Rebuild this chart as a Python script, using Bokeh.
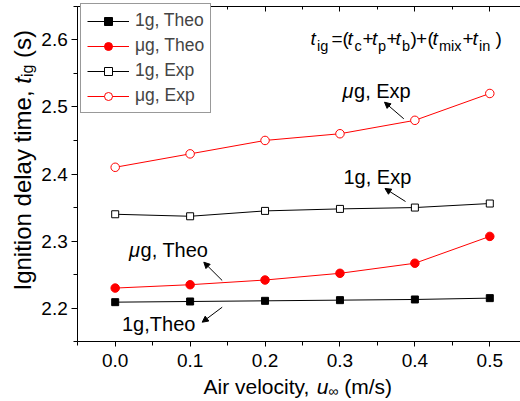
import numpy as np
from bokeh.plotting import figure
from bokeh.models import Range1d, FixedTicker, LinearAxis, Label, Arrow, NormalHead
from bokeh.embed import file_html
from bokeh.resources import INLINE

# ---------------- data ----------------
air_velocity = [0.0, 0.1, 0.2, 0.3, 0.4, 0.5]
theo_1g = [2.209, 2.210, 2.211, 2.212, 2.213, 2.215]
theo_ug = [2.230, 2.235, 2.242, 2.252, 2.267, 2.307]
exp_1g = [2.340, 2.337, 2.345, 2.348, 2.350, 2.356]
exp_ug = [2.410, 2.430, 2.450, 2.460, 2.480, 2.520]

x_ticks = [0.0, 0.1, 0.2, 0.3, 0.4, 0.5]
x_tick_labels = ["0.0", "0.1", "0.2", "0.3", "0.4", "0.5"]
y_ticks = [2.2, 2.3, 2.4, 2.5, 2.6]
y_tick_labels = ["2.2", "2.3", "2.4", "2.5", "2.6"]

# ---------------- layout ----------------
X0, X1 = -0.05, 0.55
Y0, Y1 = 2.15, 2.65
W, H = 520, 401
FONT = "Liberation Sans"
RED = "#ff0000"
BOFF = 7  # baseline correction for labels (px)

PX0, PXS = 114.7, 749.2      # page x of x=0, px per unit
PY0, PYS = 307.7, 671.0      # page y of y=2.2, px per unit


def dx(px):
    return (px - PX0) / PXS


def dy(py):
    return 2.2 + (PY0 - py) / PYS


WID = {' ': 278, ',': 278, '.': 278, '(': 333, ')': 333, '/': 278, 'A': 667, 'I': 278,
       'E': 667, 'T': 611, 'a': 556, 'b': 556, 'c': 500, 'd': 556, 'e': 556, 'g': 556,
       'h': 556, 'i': 222, 'l': 222, 'm': 833, 'n': 556, 'o': 556, 'p': 556, 'r': 333,
       's': 500, 't': 278, 'u': 556, 'v': 500, 'x': 500, 'y': 500, '1': 556, 'μ': 576,
       '∞': 713, '+': 584, '=': 584}


def tw(s, size):
    return sum(WID.get(c, 556) for c in s) * size / 1000.0


p = figure(width=W, height=H, x_range=Range1d(dx(0), dx(W)), y_range=Range1d(dy(H), dy(0)),
           output_backend="svg", toolbar_location=None,
           x_axis_location=None, y_axis_location=None,
           min_border=0, min_border_left=0, min_border_right=0,
           min_border_top=0, min_border_bottom=0,
           background_fill_color="white", border_fill_color="white")
p.grid.visible = False
p.outline_line_color = None

x_minor = list(np.round(np.concatenate([[x_ticks[0] - 0.05], np.array(x_ticks) + 0.05]), 3))
y_minor = list(np.round(np.concatenate([[y_ticks[0] - 0.05], np.array(y_ticks) + 0.05]), 3))

bottom = LinearAxis(fixed_location=Y0, bounds=(X0, X1),
                    ticker=FixedTicker(ticks=x_ticks, minor_ticks=x_minor),
                    major_label_overrides={t: l for t, l in zip(x_ticks, x_tick_labels)},
                    major_tick_in=0, major_tick_out=5, minor_tick_in=0, minor_tick_out=4,
                    major_label_standoff=7, major_label_text_font=FONT,
                    major_label_text_font_size="19px", major_label_text_color="black",
                    axis_line_color="black")
p.add_layout(bottom, "below")

left = LinearAxis(fixed_location=X0, bounds=(Y0, Y1),
                  ticker=FixedTicker(ticks=y_ticks, minor_ticks=y_minor),
                  major_label_overrides={t: l for t, l in zip(y_ticks, y_tick_labels)},
                  major_tick_in=0, major_tick_out=6, minor_tick_in=0, minor_tick_out=4,
                  major_label_standoff=4, major_label_text_font=FONT,
                  major_label_text_font_size="19px", major_label_text_color="black",
                  axis_line_color="black")
p.add_layout(left, "left")

top = LinearAxis(fixed_location=Y1, bounds=(X0, X1),
                 ticker=FixedTicker(ticks=x_ticks, minor_ticks=x_minor),
                 major_tick_in=5, major_tick_out=0, minor_tick_in=3, minor_tick_out=0,
                 major_label_overrides={t: "" for t in x_ticks}, major_label_standoff=0,
                 axis_line_color="black")
p.add_layout(top, "above")

# ---------------- series ----------------
p.line(air_velocity, theo_1g, color="black", line_width=1, legend_label="1g, Theo")
p.scatter(air_velocity, theo_1g, marker="square", size=7, color="black", legend_label="1g, Theo")
p.line(air_velocity, theo_ug, color=RED, line_width=1, legend_label="μg, Theo")
p.scatter(air_velocity, theo_ug, marker="circle", size=8.5, color=RED, legend_label="μg, Theo")
p.line(air_velocity, exp_1g, color="black", line_width=1, legend_label="1g, Exp")
p.scatter(air_velocity, exp_1g, marker="square", size=7, line_color="black", fill_color="white",
          line_width=1, legend_label="1g, Exp")
p.line(air_velocity, exp_ug, color=RED, line_width=1, legend_label="μg, Exp")
p.scatter(air_velocity, exp_ug, marker="circle", size=8.5, line_color=RED, fill_color="white",
          line_width=1, legend_label="μg, Exp")

lg = p.legend[0]
lg.padding = 6
lg.spacing = 4
lg.glyph_height = 20
lg.glyph_width = 42
lg.label_height = 20
lg.label_standoff = 6
lg.label_text_font = FONT
lg.label_text_font_size = "17.5px"
lg.border_line_color = "#333333"
lg.border_line_width = 1.2
lg.background_fill_color = "white"
lg.background_fill_alpha = 1
LEG_H = 2 * 6 + 4 * 20 + 3 * 4
lg.location = (80, H - 9 - LEG_H)


# ---------------- texts ----------------
def txt(px, py, s, size, style="normal", angle=0.0):
    if angle == 0.0:
        py -= BOFF
    else:
        px -= BOFF
    p.add_layout(Label(x=dx(px), y=dy(py), text=s, text_font=FONT,
                       text_font_size=f"{size}px", text_font_style=style,
                       text_color="black", text_align="left",
                       text_baseline="alphabetic", angle=angle))


# formula
MB_, SB_ = 45, 52
MS, SS = 19, 14.5
for px, s, sub, it in [(310, "t", False, True), (316.5, "ig", True, False),
                       (331, "=", False, False), (342, "(", False, False),
                       (347, "t", False, True), (354, "c", True, False),
                       (362, "+", False, False),
                       (371.5, "t", False, True), (377.5, "p", True, False),
                       (386, "+", False, False),
                       (395, "t", False, True), (401.5, "b", True, False),
                       (410, ")", False, False), (415.5, "+", False, False),
                       (427, "(", False, False),
                       (432, "t", False, True), (438.5, "mix", True, False),
                       (462, "+", False, False),
                       (472, "t", False, True), (478.5, "in", True, False),
                       (495, ")", False, False)]:
    txt(px, SB_ if sub else MB_, s, SS if sub else MS, "italic" if it else "normal")

# series annotations
AS = 20
txt(342, 97.3, "μ", AS, "italic")
txt(342 + tw("μ", AS), 97.3, "g, Exp", AS)
txt(343, 183.5, "1g, Exp", AS)
txt(128.5, 256.7, "μ", AS, "italic")
txt(128.5 + tw("μ", AS), 256.7, "g, Theo", AS)
txt(121.5, 330, "1g,Theo", AS)

for (x0, y0, x1, y1) in [(403.3, 118.3, 384, 101.7), (405, 201, 384.5, 188),
                         (221.7, 280, 203.3, 261.7), (221.7, 306.7, 201.7, 321.7)]:
    p.add_layout(Arrow(end=NormalHead(size=6, fill_color="black", line_color="black", line_width=1),
                       x_start=dx(x0), y_start=dy(y0), x_end=dx(x1), y_end=dy(y1),
                       line_color="black", line_width=1))

# x axis label
XL = 21
bx, by = 203, 393
txt(bx, by, "Air velocity,", XL)
bx += tw("Air velocity, ", XL)
txt(bx, by, "u", XL, "italic")
bx += tw("u", XL)
txt(bx, by + 4, "∞", 14)
bx += tw("∞ ", 14) + 2
txt(bx, by, "(m/s)", XL)

# y axis label (rotated)
YL = 24
ang = np.pi / 2
base_x, cy = 29, 290
txt(base_x, cy, "Ignition delay time,", YL, angle=ang)
cy -= tw("Ignition delay time, ", YL)
txt(base_x, cy, "t", YL, "italic", angle=ang)
cy -= tw("t", YL)
txt(base_x + 5, cy, "ig", 16, angle=ang)
cy -= tw("ig", 16) + tw(" ", YL)
txt(base_x, cy, "(s)", YL, angle=ang)

open("out.html", "w").write(file_html(p, INLINE))
